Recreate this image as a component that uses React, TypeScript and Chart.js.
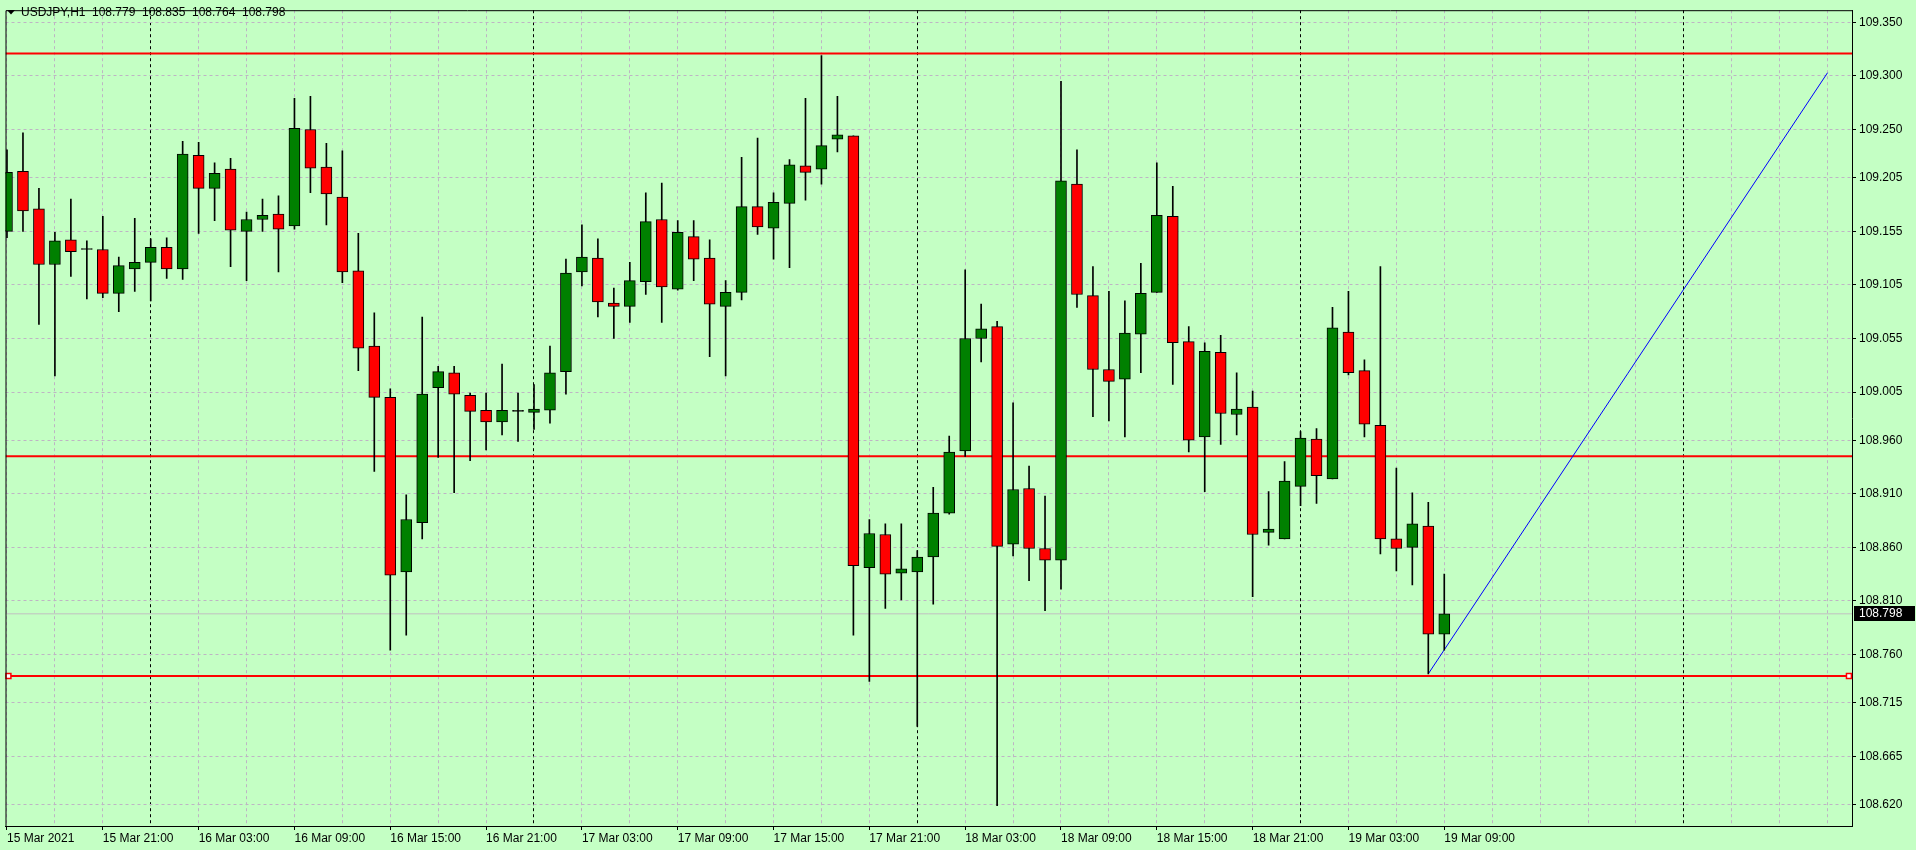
import React, { useEffect, useRef } from "react";
import { Chart, registerables } from "chart.js";

Chart.register(...registerables);

// ---------- data ----------
const symbol = "USDJPY,H1";

const opens = [
  109.155, 109.211, 109.176, 109.124, 109.147, 109.138, 109.138, 109.097, 109.120, 109.126,
  109.140, 109.120, 109.226, 109.195, 109.213, 109.155, 109.166, 109.171, 109.160, 109.250,
  109.215, 109.187, 109.118, 109.048, 109.000, 108.837, 108.883, 109.009, 109.023, 109.002,
  108.988, 108.977, 108.987, 108.986, 108.988, 109.024, 109.117, 109.130, 109.088, 109.085,
  109.108, 109.166, 109.101, 109.150, 109.130, 109.085, 109.098, 109.178, 109.158, 109.181,
  109.216, 109.213, 109.241, 109.244, 108.841, 108.872, 108.836, 108.837, 108.851, 108.892,
  108.950, 109.055, 109.066, 108.863, 108.915, 108.859, 108.848, 109.199, 109.095, 109.026,
  109.017, 109.059, 109.098, 109.169, 109.052, 108.963, 109.042, 108.984, 108.991, 108.874,
  108.868, 108.917, 108.961, 108.924, 109.061, 109.025, 108.974, 108.868, 108.860, 108.880,
  108.779,
];
const highs = [
  109.231, 109.247, 109.195, 109.154, 109.185, 109.146, 109.169, 109.131, 109.167, 109.148,
  109.149, 109.239, 109.238, 109.219, 109.223, 109.173, 109.185, 109.188, 109.279, 109.281,
  109.237, 109.230, 109.153, 109.079, 109.008, 108.909, 109.075, 109.029, 109.029, 109.004,
  109.004, 109.031, 109.004, 109.012, 109.048, 109.129, 109.161, 109.148, 109.102, 109.126,
  109.191, 109.200, 109.165, 109.165, 109.147, 109.109, 109.224, 109.242, 109.191, 109.222,
  109.279, 109.319, 109.281, 109.244, 108.886, 108.882, 108.882, 108.857, 108.916, 108.964,
  109.119, 109.087, 109.071, 108.995, 108.936, 108.908, 109.295, 109.231, 109.122, 109.099,
  109.090, 109.125, 109.219, 109.197, 109.066, 109.051, 109.058, 109.023, 109.006, 108.912,
  108.940, 108.968, 108.971, 109.084, 109.099, 109.035, 109.122, 108.934, 108.911, 108.902,
  108.835,
];
const lows = [
  109.149, 109.155, 109.068, 109.020, 109.113, 109.092, 109.093, 109.080, 109.099, 109.090,
  109.111, 109.110, 109.153, 109.165, 109.122, 109.109, 109.155, 109.117, 109.157, 109.191,
  109.161, 109.107, 109.025, 108.931, 108.764, 108.778, 108.868, 108.944, 108.911, 108.941,
  108.951, 108.965, 108.959, 108.970, 108.976, 109.003, 109.104, 109.075, 109.055, 109.070,
  109.096, 109.070, 109.100, 109.109, 109.038, 109.020, 109.091, 109.152, 109.129, 109.121,
  109.184, 109.199, 109.229, 108.778, 108.735, 108.803, 108.811, 108.693, 108.807, 108.891,
  108.945, 109.033, 108.619, 108.852, 108.829, 108.801, 108.821, 109.084, 108.982, 108.978,
  108.963, 109.023, 109.098, 109.012, 108.949, 108.912, 108.956, 108.965, 108.814, 108.862,
  108.868, 108.899, 108.901, 108.924, 109.021, 108.963, 108.854, 108.838, 108.825, 108.742,
  108.764,
];
const closes = [
  109.210, 109.174, 109.124, 109.146, 109.136, 109.138, 109.097, 109.123, 109.126, 109.140,
  109.120, 109.227, 109.195, 109.209, 109.156, 109.166, 109.170, 109.157, 109.251, 109.214,
  109.190, 109.117, 109.046, 109.000, 108.834, 108.886, 109.003, 109.024, 109.003, 108.987,
  108.977, 108.988, 108.987, 108.989, 109.023, 109.116, 109.131, 109.089, 109.085, 109.109,
  109.164, 109.103, 109.154, 109.129, 109.087, 109.098, 109.178, 109.159, 109.182, 109.217,
  109.210, 109.235, 109.245, 108.843, 108.873, 108.835, 108.840, 108.851, 108.892, 108.949,
  109.055, 109.064, 108.861, 108.914, 108.859, 108.848, 109.202, 109.096, 109.026, 109.015,
  109.060, 109.097, 109.170, 109.051, 108.960, 109.043, 108.985, 108.989, 108.872, 108.877,
  108.922, 108.962, 108.927, 109.065, 109.023, 108.975, 108.868, 108.859, 108.882, 108.779,
  108.798,
];

// time axis labels, one every 6 bars starting at bar 0
const timeLabels = [
  "15 Mar 2021", "15 Mar 21:00", "16 Mar 03:00", "16 Mar 09:00", "16 Mar 15:00",
  "16 Mar 21:00", "17 Mar 03:00", "17 Mar 09:00", "17 Mar 15:00", "17 Mar 21:00",
  "18 Mar 03:00", "18 Mar 09:00", "18 Mar 15:00", "18 Mar 21:00", "19 Mar 03:00",
  "19 Mar 09:00",
];
const labelStep = 6;
const gridStep = 3;
const daySeparators = [9, 33, 57, 81, 105];

const priceTicks = [
  109.350, 109.300, 109.250, 109.205, 109.155, 109.105, 109.055, 109.005,
  108.960, 108.910, 108.860, 108.810, 108.760, 108.715, 108.665, 108.620,
];

const levelLines = [109.321, 108.945, 108.740];
const trendBars = [89, 114];
const trendPrices = [108.742, 109.303];
const handleBars = [0.09, 115.34];

// ---------- view ----------
const X_MIN = -0.09375;
const X_MAX = 115.53125;
const Y_MIN = 108.59996;
const Y_MAX = 109.36137;

const BG = "rgb(196,255,196)";
const GRID = "rgb(190,180,196)";
const BULL = "#008000";
const BEAR = "#FF0000";
const FONT = "'Liberation Sans', Arial, sans-serif";
const FONT_SIZE = 12;

function labelFor(v: any): string {
  if (typeof v !== "number") return "";
  if (v % labelStep !== 0) return "";
  const i = v / labelStep;
  return i >= 0 && i < timeLabels.length ? timeLabels[i] : "";
}

export default function App() {
  const ref = useRef<HTMLCanvasElement | null>(null);

  useEffect(() => {
    document.body.style.margin = "0";
    const canvas = ref.current;
    if (!canvas) return;
    const n = closes.length;
    const lastClose = closes[n - 1];

    const bodies = closes.map((c, i) => ({ x: i, y: [opens[i], c] }));
    const wicks = closes.map((c, i) => ({ x: i, y: [lows[i], highs[i]] }));
    const bodyColors = closes.map((c, i) => (c > opens[i] ? BULL : c < opens[i] ? BEAR : "#000"));

    const gridBars: number[] = [];
    for (let v = 0; v <= X_MAX; v += gridStep) gridBars.push(v);

    const levelDatasets = levelLines.map((p) => ({
      type: "line" as const,
      data: [{ x: X_MIN, y: p }, { x: X_MAX, y: p }],
      borderColor: "#FF0000",
      borderWidth: 2,
      pointRadius: 0,
      order: 6,
    }));

    const bgPlugin = {
      id: "bg",
      beforeDraw(chart: any) {
        const ctx = chart.ctx;
        ctx.save();
        ctx.fillStyle = BG;
        ctx.fillRect(0, 0, chart.width, chart.height);
        ctx.restore();
      },
    };

    const overlayPlugin = {
      id: "overlay",
      afterDraw(chart: any) {
        const ctx = chart.ctx;
        const a = chart.chartArea;
        ctx.save();
        ctx.setLineDash([]);
        // left & top frame
        ctx.strokeStyle = "#000";
        ctx.lineWidth = 1;
        ctx.beginPath();
        ctx.moveTo(a.left + 0.5, a.bottom);
        ctx.lineTo(a.left + 0.5, a.top + 0.5);
        ctx.lineTo(a.right, a.top + 0.5);
        ctx.stroke();

        // current price box
        const y = chart.scales.y.getPixelForValue(lastClose);
        ctx.fillStyle = "#000";
        ctx.fillRect(a.right + 2, Math.round(y) - 8, 61, 15);
        ctx.fillStyle = "#fff";
        ctx.font = `${FONT_SIZE}px ${FONT}`;
        ctx.textBaseline = "middle";
        ctx.textAlign = "left";
        ctx.fillText(lastClose.toFixed(3), a.right + 7, Math.round(y));

        // header
        ctx.fillStyle = "#000";
        ctx.beginPath();
        ctx.moveTo(7, 10);
        ctx.lineTo(15, 10);
        ctx.lineTo(11, 14.5);
        ctx.closePath();
        ctx.fill();
        ctx.fillText(symbol, 21, 12.5);
        const hdr = [opens[n - 1], highs[n - 1], lows[n - 1], closes[n - 1]];
        hdr.forEach((v, i) => ctx.fillText(v.toFixed(3), 92 + i * 50, 12.5));
        ctx.restore();
      },
    };

    const chart = new Chart(canvas, {
      type: "bar",
      data: {
        datasets: [
          {
            type: "line",
            data: [{ x: trendBars[0], y: trendPrices[0] }, { x: trendBars[1], y: trendPrices[1] }],
            borderColor: "#0000FF",
            borderWidth: 1,
            pointRadius: 0,
            order: 5,
          },
          ...levelDatasets,
          {
            type: "line",
            data: [{ x: X_MIN, y: lastClose }, { x: X_MAX, y: lastClose }],
            borderColor: "#C0C0C0",
            borderWidth: 1,
            pointRadius: 0,
            order: 7,
          },
          {
            type: "bar",
            data: wicks,
            backgroundColor: "#000",
            borderWidth: 0,
            barThickness: 1,
            grouped: false,
            order: 2,
          },
          {
            type: "bar",
            data: bodies,
            backgroundColor: bodyColors,
            borderColor: "#000",
            borderWidth: 1,
            borderSkipped: false,
            barThickness: 11,
            minBarLength: 1,
            grouped: false,
            order: 1,
          },
          {
            type: "line",
            data: handleBars.map((b) => ({ x: b, y: levelLines[2] })),
            showLine: false,
            pointStyle: "rect",
            pointRadius: 3.5,
            pointBorderColor: "#FF0000",
            pointBackgroundColor: "#FFFFFF",
            pointBorderWidth: 1.5,
            clip: false,
            order: 0,
          },
        ] as any,
      },
      options: {
        responsive: false,
        animation: false,
        devicePixelRatio: 1,
        layout: { padding: { left: 2, top: 2, right: 0, bottom: 0 } },
        plugins: { legend: { display: false }, tooltip: { enabled: false } },
        scales: {
          x: {
            type: "linear",
            min: X_MIN,
            max: X_MAX,
            offset: false,
            afterBuildTicks: (s: any) => {
              s.ticks = gridBars.map((v) => ({ value: v }));
            },
            afterFit: (s: any) => {
              s.height = 24;
            },
            grid: {
              offset: false,
              color: (c: any) => (c.tick && daySeparators.includes(c.tick.value) ? "#000" : GRID),
              lineWidth: 1,
              drawTicks: true,
              tickLength: 4,
              tickWidth: 1,
              tickBorderDash: [1, 0],
              tickColor: (c: any) => (c.tick && labelFor(c.tick.value) ? "#000" : "rgba(0,0,0,0)"),
            },
            border: { display: true, color: "#000", width: 1, dash: [3, 3] },
            ticks: {
              autoSkip: false,
              maxRotation: 0,
              minRotation: 0,
              align: "start",
              padding: 1,
              color: "#000",
              font: { family: FONT, size: FONT_SIZE },
              callback: (v: any) => labelFor(Number(v)),
            },
          },
          y: {
            type: "linear",
            position: "right",
            min: Y_MIN,
            max: Y_MAX,
            afterBuildTicks: (s: any) => {
              s.ticks = priceTicks.map((v) => ({ value: v }));
            },
            afterFit: (s: any) => {
              s.width = 64;
            },
            grid: {
              color: GRID,
              lineWidth: 1,
              tickLength: 4,
              tickColor: "#000",
              tickBorderDash: [1, 0],
            },
            border: { display: true, color: "#000", width: 1, dash: [3, 3] },
            ticks: {
              padding: 3,
              color: "#000",
              crossAlign: "near",
              font: { family: FONT, size: FONT_SIZE },
              callback: (v: any) => Number(v).toFixed(3),
            },
          },
        },
      } as any,
      plugins: [bgPlugin, overlayPlugin],
    });

    return () => chart.destroy();
  }, []);

  return (
    <div style={{ width: 1916, height: 850 }}>
      <canvas ref={ref} width={1916} height={850} style={{ display: "block", width: 1916, height: 850 }} />
    </div>
  );
}
